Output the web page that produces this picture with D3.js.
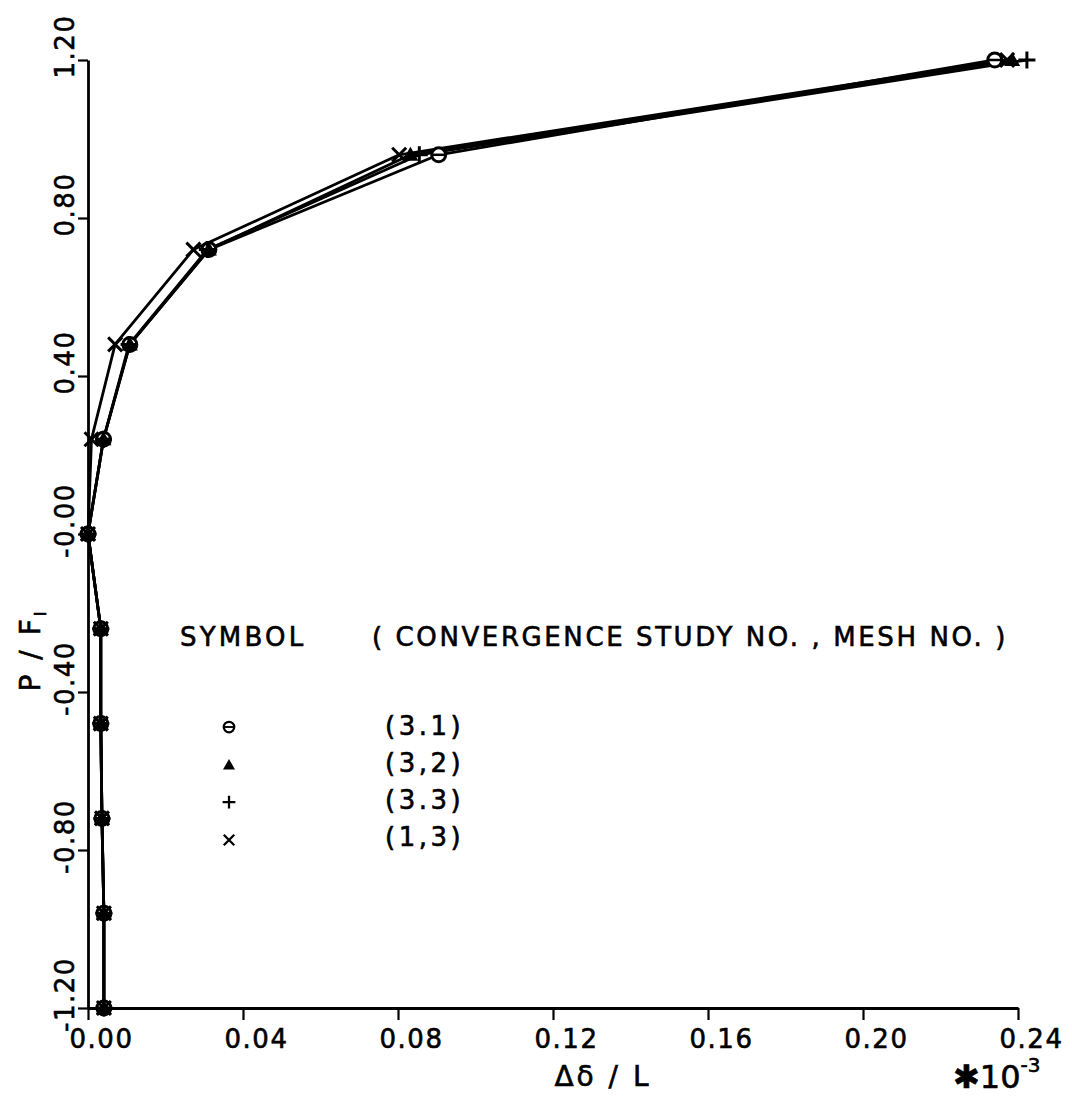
<!DOCTYPE html>
<html><head><meta charset="utf-8">
<script src="https://cdn.jsdelivr.net/npm/d3@7"></script>
<style>
html,body{margin:0;padding:0;background:#fff;}
svg{display:block;}
text{font-family:"DejaVu Sans",sans-serif;fill:#000;stroke:#000;stroke-width:0.6px;}
</style></head>
<body>
<svg id="c" width="1072" height="1097"></svg>
<script>
// ---- data ----
const loadLevels = [-1.20, -0.96, -0.72, -0.48, -0.24, 0.00, 0.24, 0.48, 0.72, 0.96, 1.20];
const mesh31 = [0.0041, 0.0041, 0.0036, 0.0033, 0.0033, 0.0000, 0.0040, 0.0108, 0.0312, 0.0905, 0.2340];
const mesh32 = [0.0041, 0.0041, 0.0036, 0.0033, 0.0033, 0.0000, 0.0040, 0.0108, 0.0312, 0.0832, 0.2385];
const mesh33 = [0.0041, 0.0041, 0.0036, 0.0033, 0.0033, 0.0000, 0.0040, 0.0106, 0.0308, 0.0855, 0.2423];
const mesh13 = [0.0041, 0.0041, 0.0036, 0.0033, 0.0033, 0.0000, 0.0009, 0.0070, 0.0272, 0.0803, 0.2372];
const seriesNames = ["(3.1)", "(3,2)", "(3.3)", "(1,3)"];
const seriesSymbols = ["circle", "triangle", "plus", "cross"];
const xTicks = [0.00, 0.04, 0.08, 0.12, 0.16, 0.20, 0.24];
const yTicks = [1.20, 0.80, 0.40, 0.00, -0.40, -0.80, -1.20];
const yTickLabels = ["1.20", "0.80", "0.40", "-0.00", "-0.40", "-0.80", "-1.20"];

const series = [mesh31, mesh32, mesh33, mesh13].map((vals, i) => ({
  name: seriesNames[i], sym: seriesSymbols[i],
  pts: vals.map((v, j) => ({x: v, y: loadLevels[j]}))
}));

const svg = d3.select("#c");
svg.append("rect").attr("width", 1072).attr("height", 1097).attr("fill", "#fff");

const x = d3.scaleLinear().domain([0, 0.24]).range([88, 1018]);
const y = d3.scaleLinear().domain([-1.2, 1.2]).range([1008, 60]);

// axes
const xAxis = d3.axisBottom(x).tickValues(xTicks).tickSize(12).tickSizeOuter(0).tickFormat(d3.format(".2f"));
const gx = svg.append("g").attr("transform", "translate(0,1008)").call(xAxis);
gx.select(".domain").attr("stroke-width", 2.8);
gx.selectAll(".tick line").attr("stroke-width", 2.2);
gx.selectAll(".tick text").attr("font-size", 26).attr("y", 22).attr("dx", 13).attr("letter-spacing", 1.5)
  .attr("font-family", "DejaVu Sans");

const yAxis = d3.axisLeft(y).tickValues(yTicks).tickSize(10).tickSizeOuter(0).tickFormat((d, i) => yTickLabels[i]);
const gy = svg.append("g").attr("transform", "translate(88,0)").call(yAxis);
gy.select(".domain").attr("stroke-width", 2.8);
gy.selectAll(".tick line").attr("stroke-width", 2.2);
gy.selectAll(".tick text")
  .attr("font-size", 26).attr("letter-spacing", 1.5).attr("font-family", "DejaVu Sans")
  .attr("x", null).attr("dy", null)
  .attr("text-anchor", "middle")
  .attr("transform", "translate(-14,-14) rotate(-90)");

// axis titles
svg.append("text").attr("x", 603).attr("y", 1086).attr("text-anchor", "middle")
  .attr("font-size", 28).attr("letter-spacing", 3).text("Δδ / L");
const mult = svg.append("text").attr("x", 953).attr("y", 1088).attr("font-size", 32);
mult.append("tspan").text("✱10");
mult.append("tspan").attr("font-size", 20).attr("dy", -16).text("-3");

const ylab = svg.append("text").attr("transform", "translate(40,650) rotate(-90)")
  .attr("text-anchor", "middle").attr("font-size", 28).attr("letter-spacing", 3);
ylab.append("tspan").text("P / F");
ylab.append("tspan").attr("font-size", 16).attr("dy", 6).text("I");

// lines
const line = d3.line().x(d => x(d.x)).y(d => y(d.y));
svg.append("g").selectAll("path").data(series).join("path")
  .attr("d", d => line(d.pts)).attr("fill", "none").attr("stroke", "#000").attr("stroke-width", 2.8)
  .attr("stroke-linejoin", "round");

// markers
function drawSym(g, sym, cx, cy, s) {
  if (sym === "circle") {
    g.append("circle").attr("cx", cx).attr("cy", cy).attr("r", 7*s).attr("fill", "#fff").attr("stroke", "#000").attr("stroke-width", 3*s);
    g.append("line").attr("x1", cx-6.5*s).attr("x2", cx+6.5*s).attr("y1", cy).attr("y2", cy).attr("stroke", "#000").attr("stroke-width", 2.5*s);
  } else if (sym === "triangle") {
    const r = 8*s;
    g.append("path").attr("d", `M${cx},${cy-r}L${cx+r},${cy+r*0.75}L${cx-r},${cy+r*0.75}Z`).attr("fill", "#000");
  } else if (sym === "plus") {
    const r = 8.5*s;
    g.append("path").attr("d", `M${cx-r},${cy}H${cx+r}M${cx},${cy-r}V${cy+r}`).attr("stroke", "#000").attr("stroke-width", 3*s);
  } else {
    const r = 7*s;
    g.append("path").attr("d", `M${cx-r},${cy-r}L${cx+r},${cy+r}M${cx-r},${cy+r}L${cx+r},${cy-r}`).attr("stroke", "#000").attr("stroke-width", 3*s);
  }
}
const mk = svg.append("g");
series.forEach(s => s.pts.forEach(p => drawSym(mk, s.sym, x(p.x), y(p.y), 1)));

// legend
svg.append("text").attr("x", 180).attr("y", 646).attr("font-size", 26).attr("letter-spacing", 3.2).text("SYMBOL");
svg.append("text").attr("x", 372).attr("y", 646).attr("font-size", 26).attr("letter-spacing", 2.6).text("( CONVERGENCE STUDY NO. , MESH NO. )");
const legText = [735, 772, 809, 846];
const legSym = [727, 765, 802, 840];
seriesNames.forEach((n, i) => {
  drawSym(svg.append("g"), seriesSymbols[i], 229, legSym[i], 0.75);
  svg.append("text").attr("x", 385).attr("y", legText[i]).attr("font-size", 26).attr("letter-spacing", 3.5).text(n);
});
</script>
</body></html>
